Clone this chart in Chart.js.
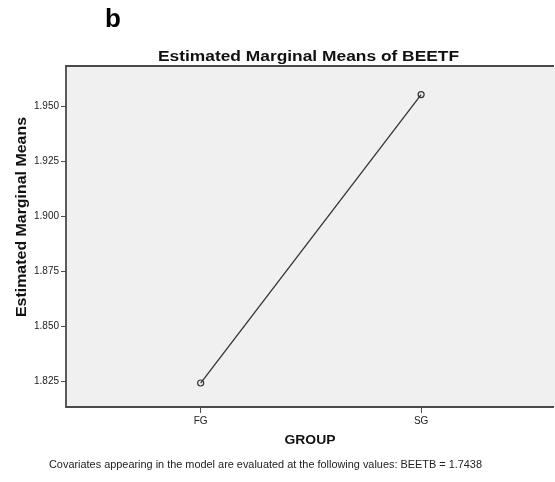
<!DOCTYPE html>
<html>
<head>
<meta charset="utf-8">
<script src="https://cdn.jsdelivr.net/npm/chart.js@4/dist/chart.umd.min.js"></script>
<style>
  html, body { margin: 0; padding: 0; background: #ffffff; overflow: hidden; }
  #wrap { width: 555px; height: 482px; }
</style>
</head>
<body>
<div id="wrap"><canvas id="c" width="555" height="482"></canvas></div>
<script>
// ---- data ----
const categories = ['FG', 'SG'];
const means = [1.8241, 1.9552];
const yTicks = [1.825, 1.850, 1.875, 1.900, 1.925, 1.950];
const panelLabel = 'b';
const chartTitle = 'Estimated Marginal Means of BEETF';
const yTitle = 'Estimated Marginal Means';
const xTitle = 'GROUP';
const footnote = 'Covariates appearing in the model are evaluated at the following values: BEETB = 1.7438';

const FONT = "'Liberation Sans', Arial, Helvetica, sans-serif";

function drawFitted(ctx, text, cx, cy, font, targetW, color, rotate) {
  ctx.save();
  ctx.font = font;
  ctx.fillStyle = color;
  ctx.textBaseline = 'alphabetic';
  ctx.textAlign = 'left';
  const w = ctx.measureText(text).width;
  const sx = targetW / w;
  ctx.translate(cx, cy);
  if (rotate) ctx.rotate(-Math.PI / 2);
  ctx.scale(sx, 1);
  ctx.fillText(text, -w / 2, 0);
  ctx.restore();
}

const decor = {
  id: 'decor',
  beforeDraw(chart) {
    const { ctx, chartArea: a } = chart;
    ctx.save();
    ctx.fillStyle = '#f0f0f0';
    ctx.fillRect(a.left, a.top, chart.width - a.left, a.bottom - a.top);
    ctx.restore();
  },
  afterDraw(chart) {
    const { ctx, chartArea: a } = chart;
    ctx.save();
    ctx.strokeStyle = '#4a4a4a';
    ctx.lineWidth = 1.8;
    ctx.beginPath();
    ctx.moveTo(chart.width - 1, a.top);
    ctx.lineTo(a.left, a.top);
    ctx.lineTo(a.left, a.bottom);
    ctx.lineTo(chart.width - 1, a.bottom);
    ctx.stroke();
    ctx.restore();

    // panel label
    ctx.save();
    ctx.font = 'bold 26px ' + FONT;
    ctx.fillStyle = '#000';
    ctx.textBaseline = 'alphabetic';
    ctx.fillText(panelLabel, 105, 27);
    ctx.restore();

    drawFitted(ctx, chartTitle, 308.5, 61, 'bold 14px ' + FONT, 301, '#111', false);
    drawFitted(ctx, yTitle, 25.5, 217, 'bold 14px ' + FONT, 200, '#111', true);
    drawFitted(ctx, xTitle, 310, 444, 'bold 13.5px ' + FONT, 51, '#111', false);
    drawFitted(ctx, footnote, 265.5, 468, '11.5px ' + FONT, 433, '#222', false);
  }
};

new Chart(document.getElementById('c'), {
  type: 'line',
  data: {
    datasets: [{
      data: categories.map((c, i) => ({ x: i, y: means[i] })),
      borderColor: '#333333',
      borderWidth: 1.3,
      pointRadius: 3,
      pointBorderWidth: 1.2,
      pointBorderColor: '#333333',
      pointBackgroundColor: 'rgba(0,0,0,0)',
      tension: 0,
      fill: false
    }]
  },
  plugins: [decor],
  options: {
    responsive: false,
    animation: false,
    events: [],
    layout: { padding: { top: 66, left: 0, right: 0, bottom: 0 } },
    plugins: {
      legend: { display: false },
      title: { display: false },
      tooltip: { enabled: false }
    },
    scales: {
      x: {
        type: 'linear',
        min: -0.6109,
        max: 1.5837,
        afterBuildTicks(scale) { scale.ticks = categories.map((c, i) => ({ value: i })); },
        afterFit(scale) { scale.height = 75; scale.paddingLeft = 0; scale.paddingRight = 0; },
        border: { display: false },
        grid: { display: true, drawOnChartArea: false, drawTicks: true, tickLength: 6, color: '#505050', lineWidth: 1 },
        ticks: {
          autoSkip: false,
          maxRotation: 0,
          padding: 2,
          color: '#222',
          font: { family: FONT, size: 10 },
          callback: (v) => categories[v]
        }
      },
      y: {
        type: 'linear',
        min: 1.8132,
        max: 1.9682,
        afterBuildTicks(scale) { scale.ticks = yTicks.map(v => ({ value: v })); },
        afterFit(scale) { scale.width = 66; scale.paddingTop = 0; scale.paddingBottom = 0; },
        border: { display: false },
        grid: { display: true, drawOnChartArea: false, drawTicks: true, tickLength: 5, color: '#505050', lineWidth: 1 },
        ticks: {
          autoSkip: false,
          padding: 2,
          color: '#222',
          font: { family: FONT, size: 10 },
          callback: (v) => Number(v).toFixed(3)
        }
      }
    }
  }
});
</script>
</body>
</html>
